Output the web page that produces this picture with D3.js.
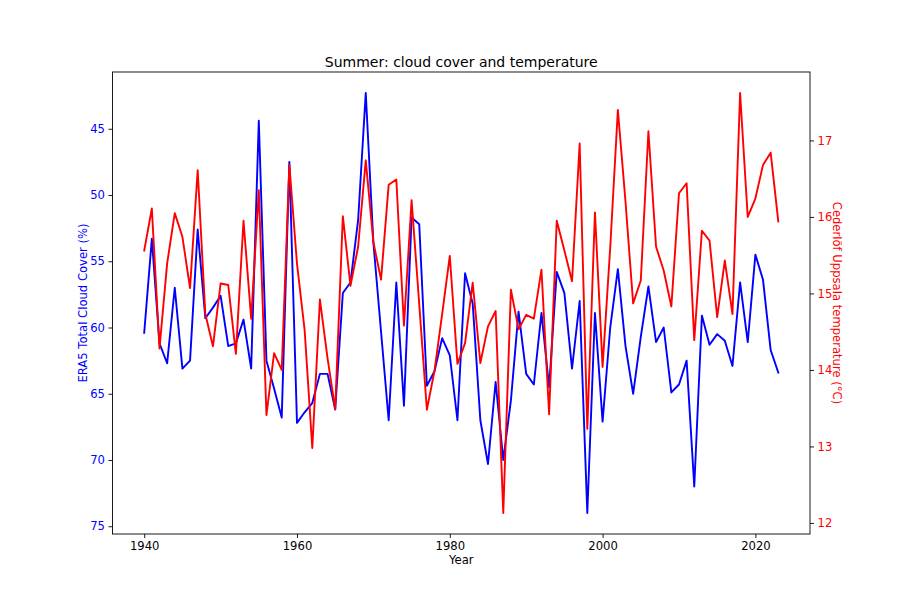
<!DOCTYPE html>
<html>
<head>
<meta charset="utf-8">
<script src="https://cdn.jsdelivr.net/npm/d3@7"></script>
<style>
  html, body { margin: 0; padding: 0; background: #fff; }
  svg { display: block; font-family: "DejaVu Sans", sans-serif; }
</style>
</head>
<body>
<svg id="chart" width="900" height="600"></svg>
<script>
const years = d3.range(1940, 2024);
const cloudCover = [
  60.4, 53.3, 61.2, 62.7, 57.0, 63.1, 62.5, 52.6, 59.3, 58.5,
  57.6, 61.4, 61.2, 59.4, 63.1, 44.4, 62.5, 64.6, 66.8, 47.5,
  67.2, 66.4, 65.7, 63.5, 63.5, 66.2, 57.4, 56.6, 51.9, 42.3,
  53.6, 60.3, 67.0, 56.6, 65.9, 51.7, 52.2, 64.4, 63.3, 60.8,
  62.1, 67.0, 55.9, 58.2, 67.0, 70.3, 64.1, 70.0, 65.5, 58.8,
  63.5, 64.3, 58.9, 64.5, 55.8, 57.4, 63.1, 58.0, 74.0, 58.9,
  67.1, 60.0, 55.6, 61.4, 65.0, 60.7, 56.9, 61.1, 60.0, 64.9,
  64.3, 62.5, 72.0, 59.1, 61.3, 60.5, 61.0, 62.9, 56.6, 61.1,
  54.5, 56.4, 61.7, 63.4
];
const temperature = [
  15.56, 16.11, 14.28, 15.39, 16.05, 15.74, 15.07, 16.61, 14.73, 14.31,
  15.13, 15.11, 14.21, 15.95, 14.67, 16.35, 13.41, 14.22, 14.00, 16.68,
  15.39, 14.52, 12.98, 14.92, 14.15, 13.49, 16.01, 15.10, 15.61, 16.74,
  15.67, 15.18, 16.42, 16.49, 14.58, 16.22, 14.86, 13.48, 13.99, 14.73,
  15.49, 14.08, 14.35, 15.14, 14.09, 14.57, 14.77, 12.13, 15.05, 14.53,
  14.72, 14.67, 15.31, 13.42, 15.95, 15.56, 15.16, 16.96, 13.23, 16.06,
  14.04, 15.60, 17.40, 16.20, 14.87, 15.17, 17.12, 15.61, 15.30, 14.83,
  16.31, 16.44, 14.39, 15.82, 15.69, 14.69, 15.43, 14.73, 17.62, 16.00,
  16.24, 16.68, 16.84, 15.94
];
const xTicks = [1940, 1960, 1980, 2000, 2020];
const cloudTicks = [45, 50, 55, 60, 65, 70, 75];
const tempTicks = [12, 13, 14, 15, 16, 17];

const L = 112.5, R = 810, T = 72, B = 534;
const svg = d3.select("#chart");
const fs = 11.6;

function padDomain(vals) {
  const [a, b] = d3.extent(vals);
  const m = (b - a) * 0.05;
  return [a - m, b + m];
}

const x = d3.scaleLinear().domain(padDomain(years)).range([L, R]);
const yC = d3.scaleLinear().domain(padDomain(cloudCover)).range([T, B]); // inverted
const yT = d3.scaleLinear().domain(padDomain(temperature)).range([B, T]);

const tickSize = 4, tickPad = 3.5;

// X axis
const gx = svg.append("g").attr("transform", `translate(0,${B})`)
  .call(d3.axisBottom(x).tickValues(xTicks).tickFormat(d3.format("d"))
    .tickSizeInner(tickSize).tickSizeOuter(0).tickPadding(tickPad));
gx.select(".domain").remove();
gx.selectAll("text").attr("font-size", fs).attr("fill", "#000").attr("font-family", "DejaVu Sans");
gx.selectAll("line").attr("stroke", "#000").attr("stroke-width", 0.9);

// Left axis
const gl = svg.append("g").attr("transform", `translate(${L},0)`)
  .call(d3.axisLeft(yC).tickValues(cloudTicks).tickFormat(d3.format("d"))
    .tickSizeInner(tickSize).tickSizeOuter(0).tickPadding(tickPad));
gl.select(".domain").remove();
gl.selectAll("text").attr("font-size", fs).attr("fill", "blue").attr("font-family", "DejaVu Sans");
gl.selectAll("line").attr("stroke", "#000").attr("stroke-width", 0.9);

// Right axis
const gr = svg.append("g").attr("transform", `translate(${R},0)`)
  .call(d3.axisRight(yT).tickValues(tempTicks).tickFormat(d3.format("d"))
    .tickSizeInner(tickSize).tickSizeOuter(0).tickPadding(tickPad));
gr.select(".domain").remove();
gr.selectAll("text").attr("font-size", fs).attr("fill", "red").attr("font-family", "DejaVu Sans");
gr.selectAll("line").attr("stroke", "#000").attr("stroke-width", 0.9);

// Lines
const lineC = d3.line().x((d, i) => x(years[i])).y(d => yC(d));
const lineT = d3.line().x((d, i) => x(years[i])).y(d => yT(d));

svg.append("path").datum(cloudCover).attr("d", lineC)
  .attr("fill", "none").attr("stroke", "blue").attr("stroke-width", 1.9)
  .attr("stroke-linejoin", "round").attr("stroke-linecap", "square");
svg.append("path").datum(temperature).attr("d", lineT)
  .attr("fill", "none").attr("stroke", "red").attr("stroke-width", 1.9)
  .attr("stroke-linejoin", "round").attr("stroke-linecap", "square");

// Frame
svg.append("rect").attr("x", L).attr("y", T).attr("width", R - L).attr("height", B - T)
  .attr("fill", "none").attr("stroke", "#000").attr("stroke-width", 0.9);

// Title and labels
svg.append("text").attr("x", (L + R) / 2).attr("y", 67).attr("text-anchor", "middle")
  .attr("font-size", 14).attr("fill", "#000").text("Summer: cloud cover and temperature");
svg.append("text").attr("x", (L + R) / 2).attr("y", 564).attr("text-anchor", "middle")
  .attr("font-size", fs).attr("fill", "#000").text("Year");
svg.append("text").attr("transform", `translate(87,${(T + B) / 2}) rotate(-90)`)
  .attr("text-anchor", "middle").attr("font-size", fs).attr("fill", "blue")
  .text("ERA5 Total Cloud Cover (%)");
svg.append("text").attr("transform", `translate(833,${(T + B) / 2}) rotate(90)`)
  .attr("text-anchor", "middle").attr("font-size", fs).attr("fill", "red")
  .text("Cederlöf Uppsala temperature (°C)");
</script>
</body>
</html>
